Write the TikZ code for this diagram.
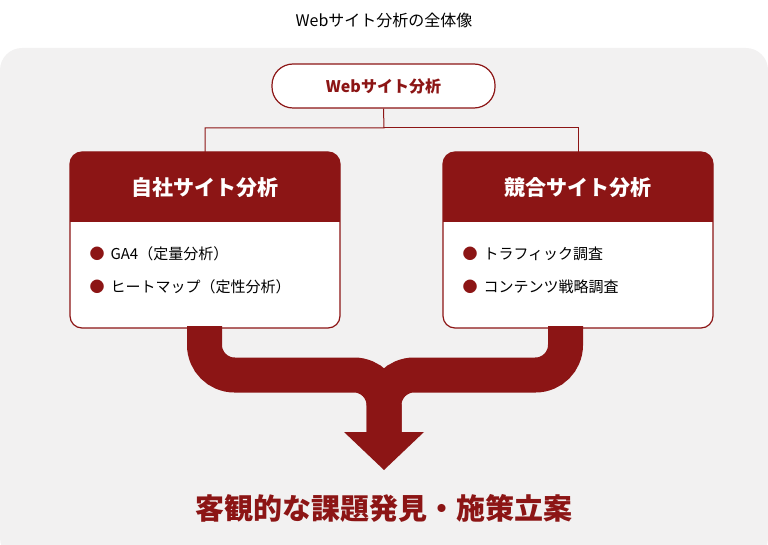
\documentclass[tikz,border=0pt]{standalone}
\usepackage{fontspec}
\setmainfont{Noto Sans CJK JP}
\newfontfamily\jpbold{Noto Sans CJK JP Bold}
\definecolor{dred}{HTML}{8C1515}
\definecolor{bgc}{HTML}{F2F1F1}
\begin{document}
\begin{tikzpicture}[x=1pt,y=-1pt,
  hdr/.style={fill=dred,text=white,font=\fontsize{21}{24}\selectfont\bfseries},
  card/.style={draw=dred,line width=1.2pt,fill=white,rounded corners=12pt},
  bul/.style={anchor=west,font=\fontsize{15}{18}\selectfont,text=black},
  conn/.style={draw=dred,line width=1pt}]
\useasboundingbox (0,0) rectangle (768,545);
\fill[bgc,rounded corners=22pt] (0,48) rectangle (768,560);
\node[font=\fontsize{16}{19}\selectfont] (title) at (384,20) {Webサイト分析の全体像};
% top node
\node[draw=dred,line width=1.2pt,fill=white,rounded corners=21pt,minimum width=223pt,minimum height=44pt,
  text=dred,font=\fontsize{16}{19}\selectfont\bfseries] (top) at (383.5,86) {Webサイト分析};
% cards
\draw[card] (70,152) rectangle (340,328);
\draw[card] (443,152) rectangle (713,328);
\fill[dred,rounded corners=12pt] (70,152) rectangle (340,222);
\fill[dred] (70,200) rectangle (340,222);
\fill[dred,rounded corners=12pt] (443,152) rectangle (713,222);
\fill[dred] (443,200) rectangle (713,222);
\coordinate (lt) at (205,152);
\coordinate (rt) at (578,152);
\node[text=white,font=\fontsize{21}{24}\selectfont\bfseries] (lh) at (205,188) {自社サイト分析};
\node[text=white,font=\fontsize{21}{24}\selectfont\bfseries] (rh) at (578,188) {競合サイト分析};
\node[bul] (l1) at (86,254) {{\color{dred}●}\hspace{6pt}GA4（定量分析）};
\node[bul] (l2) at (86,287) {{\color{dred}●}\hspace{6pt}ヒートマップ（定性分析）};
\node[bul] (r1) at (459,254) {{\color{dred}●}\hspace{6pt}トラフィック調査};
\node[bul] (r2) at (459,287) {{\color{dred}●}\hspace{6pt}コンテンツ戦略調査};
% connectors
\draw[conn] (top.south) -- (384,128) -| (lt);
\draw[conn] (384,128) -| (rt);
% merge arrow
\draw[dred,line width=35pt,rounded corners=30pt] (204.5,326) -- (204.5,375) -- (384,375) -- (384,436);
\draw[dred,line width=35pt,rounded corners=30pt] (565.5,326) -- (565.5,375) -- (384,375) -- (384,436);
\fill[dred] (344,432) coordinate (ah1) -- (424,432) -- (384,470) coordinate (tip) -- cycle;
\node[text=dred,font=\fontsize{29}{34}\selectfont\bfseries] (res) at (384,508) {客観的な課題発見・施策立案};
\end{tikzpicture}
\end{document}
